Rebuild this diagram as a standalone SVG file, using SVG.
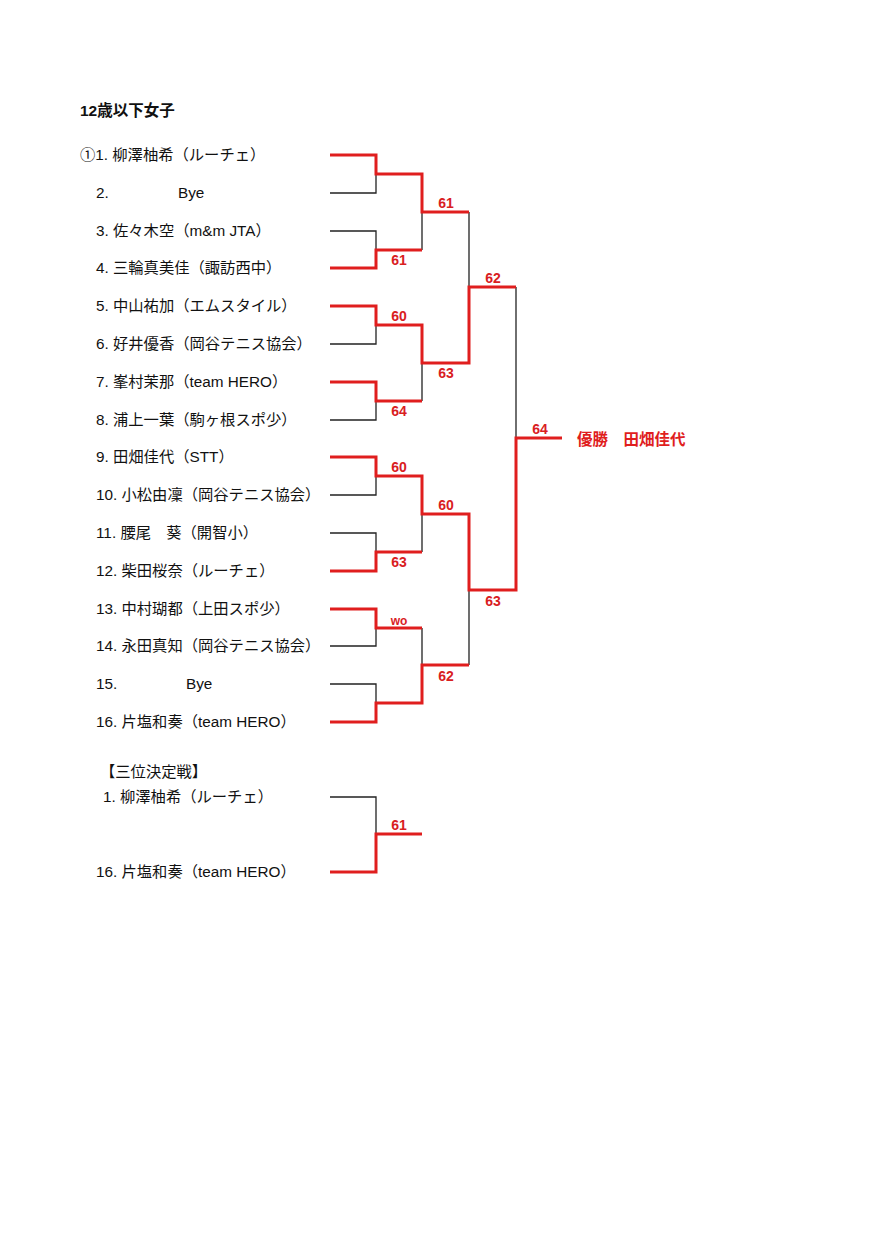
<svg xmlns="http://www.w3.org/2000/svg" width="890" height="1258" viewBox="0 0 890 1258">
<style>
.t{font-family:"Liberation Sans","Noto Sans CJK JP",sans-serif;font-size:15.3px;fill:#111}
.b{font-weight:bold;font-size:15.5px}
.s{font-family:"Liberation Sans","Noto Sans CJK JP",sans-serif;font-size:14px;font-weight:bold;fill:#d9201f;text-anchor:middle}
.w{font-family:"Liberation Sans","Noto Sans CJK JP",sans-serif;font-size:15.5px;font-weight:bold;fill:#e01e1e}
.k{fill:none;stroke:#222;stroke-width:1.3}
.r{fill:none;stroke:#e01e1e;stroke-width:3;stroke-linejoin:miter}
</style>
<rect width="890" height="1258" fill="#fff"/>
<text class="t b" x="80" y="116">12歳以下女子</text>
<g id="p1"><text class="t" x="80" y="160">①1. 柳澤柚希（ルーチェ）</text></g>
<g id="p2"><text class="t" x="96" y="198">2.</text><text class="t" x="178" y="198">Bye</text></g>
<g id="p3"><text class="t" x="96" y="236">3. 佐々木空（m&amp;m JTA）</text></g>
<g id="p4"><text class="t" x="96" y="273">4. 三輪真美佳（諏訪西中）</text></g>
<g id="p5"><text class="t" x="96" y="311">5. 中山祐加（エムスタイル）</text></g>
<g id="p6"><text class="t" x="96" y="349">6. 好井優香（岡谷テニス協会）</text></g>
<g id="p7"><text class="t" x="96" y="387">7. 峯村茉那（team HERO）</text></g>
<g id="p8"><text class="t" x="96" y="425">8. 浦上一葉（駒ヶ根スポ少）</text></g>
<g id="p9"><text class="t" x="96" y="462">9. 田畑佳代（STT）</text></g>
<g id="p10"><text class="t" x="96" y="500">10. 小松由凜（岡谷テニス協会）</text></g>
<g id="p11"><text class="t" x="96" y="538">11. 腰尾　葵（開智小）</text></g>
<g id="p12"><text class="t" x="96" y="576">12. 柴田桜奈（ルーチェ）</text></g>
<g id="p13"><text class="t" x="96" y="614">13. 中村瑚都（上田スポ少）</text></g>
<g id="p14"><text class="t" x="96" y="651">14. 永田真知（岡谷テニス協会）</text></g>
<g id="p15"><text class="t" x="96" y="689">15.</text><text class="t" x="186" y="689">Bye</text></g>
<g id="p16"><text class="t" x="96" y="727">16. 片塩和奏（team HERO）</text></g>
<g id="champion"><text class="w" x="577" y="445">優勝　田畑佳代</text></g>
<g id="third-place">
<text class="t" x="100" y="777">【三位決定戦】</text>
<text class="t" x="103" y="802">1. 柳澤柚希（ルーチェ）</text>
<text class="t" x="96" y="877">16. 片塩和奏（team HERO）</text>
</g>
<g id="connectors">
<path class="k" d="M330 193H376V174 M330 231H376V250 M330 344H376V325 M330 420H376V401 M330 495H376V476 M330 533H376V552 M330 646H376V628 M330 684H376V703"/>
<path class="k" d="M422 212V250 M422 363V401 M422 514V552 M422 628V665"/>
<path class="k" d="M469 212V287 M469 590V665"/>
<path class="k" d="M516 287V438"/>
<path class="k" d="M330 797H376V834"/>
<path class="r" d="M330 155H376V174H422V212H469"/>
<path class="r" d="M330 268H376V250H422"/>
<path class="r" d="M330 306H376V325H422V363H469V287H516"/>
<path class="r" d="M330 382H376V401H422"/>
<path class="r" d="M330 457H376V476H422V514H469V590H516V438H562"/>
<path class="r" d="M330 571H376V552H422"/>
<path class="r" d="M330 609H376V628H422"/>
<path class="r" d="M330 722H376V703H422V665H469"/>
<path class="r" d="M330 872H376V834H422"/>
</g>
<g id="scores">
<text class="s" x="399" y="265">61</text>
<text class="s" x="399" y="321">60</text>
<text class="s" x="399" y="416">64</text>
<text class="s" x="399" y="472">60</text>
<text class="s" x="399" y="567">63</text>
<text class="s" x="399" y="625" style="font-size:12px">wo</text>
<text class="s" x="446" y="208">61</text>
<text class="s" x="446" y="378">63</text>
<text class="s" x="446" y="510">60</text>
<text class="s" x="446" y="681">62</text>
<text class="s" x="493" y="283">62</text>
<text class="s" x="493" y="606">63</text>
<text class="s" x="540" y="434">64</text>
<text class="s" x="399" y="830">61</text>
</g>
</svg>
